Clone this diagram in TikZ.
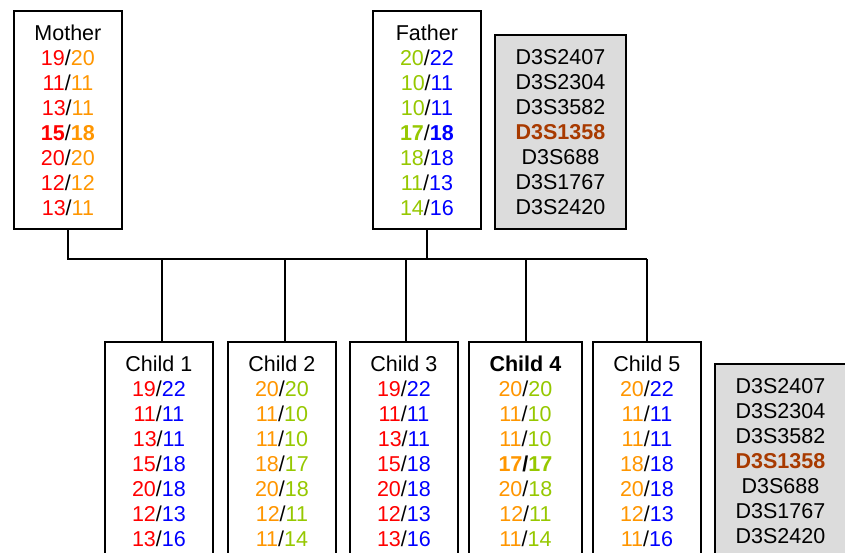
\documentclass[tikz,border=0pt]{standalone}
\usepackage{fontspec}
\setmainfont{Liberation Sans}
\usetikzlibrary{calc}

\definecolor{alred}{RGB}{255,0,0}
\definecolor{alorange}{RGB}{255,150,0}
\definecolor{algreen}{RGB}{150,200,0}
\definecolor{alblue}{RGB}{0,0,255}
\definecolor{markerhi}{RGB}{168,58,0}
\definecolor{markerbg}{RGB}{220,220,220}

% allele colour shortcuts
\newcommand\alR[1]{\textcolor{alred}{#1}}
\newcommand\alO[1]{\textcolor{alorange}{#1}}
\newcommand\alG[1]{\textcolor{algreen}{#1}}
\newcommand\alB[1]{\textcolor{alblue}{#1}}

\tikzset{
  person/.style={draw, line width=1.8pt, fill=white, anchor=north west,
    minimum width=108pt, minimum height=218pt, inner sep=0pt,
    align=center, font=\fontsize{21.5}{25}\selectfont},
  markers/.style={draw, line width=1.8pt, fill=markerbg, anchor=north west,
    minimum width=131pt, minimum height=194pt, inner sep=0pt,
    align=center, font=\fontsize{21.5}{25}\selectfont},
  link/.style={line width=1.8pt}
}

\begin{document}
\begin{tikzpicture}[x=1pt, y=-1pt]
\useasboundingbox (0,0) rectangle (845,553);

% parents
\node[person] (mother) at (13,10) {Mother\\
  \alR{19}/\alO{20}\\ \alR{11}/\alO{11}\\ \alR{13}/\alO{11}\\
  \textbf{\alR{15}}/\textbf{\alO{18}}\\ \alR{20}/\alO{20}\\ \alR{12}/\alO{12}\\ \alR{13}/\alO{11}};
\node[person] (father) at (372,10) {Father\\
  \alG{20}/\alB{22}\\ \alG{10}/\alB{11}\\ \alG{10}/\alB{11}\\
  \textbf{\alG{17}}/\textbf{\alB{18}}\\ \alG{18}/\alB{18}\\ \alG{11}/\alB{13}\\ \alG{14}/\alB{16}};

% marker list beside the parents
\node[markers] (mk1) at (494,34) {D3S2407\\ D3S2304\\ D3S3582\\
  \textbf{\textcolor{markerhi}{D3S1358}}\\ D3S688\\ D3S1767\\ D3S2420};

% children
\node[person] (c1) at (104,341) {Child 1\\
  \alR{19}/\alB{22}\\ \alR{11}/\alB{11}\\ \alR{13}/\alB{11}\\ \alR{15}/\alB{18}\\
  \alR{20}/\alB{18}\\ \alR{12}/\alB{13}\\ \alR{13}/\alB{16}};
\node[person] (c2) at (227,341) {Child 2\\
  \alO{20}/\alG{20}\\ \alO{11}/\alG{10}\\ \alO{11}/\alG{10}\\ \alO{18}/\alG{17}\\
  \alO{20}/\alG{18}\\ \alO{12}/\alG{11}\\ \alO{11}/\alG{14}};
\node[person] (c3) at (349,341) {Child 3\\
  \alR{19}/\alB{22}\\ \alR{11}/\alB{11}\\ \alR{13}/\alB{11}\\ \alR{15}/\alB{18}\\
  \alR{20}/\alB{18}\\ \alR{12}/\alB{13}\\ \alR{13}/\alB{16}};
\node[person, minimum width=113pt] (c4) at (468,341) {\textbf{Child 4}\\
  \alO{20}/\alG{20}\\ \alO{11}/\alG{10}\\ \alO{11}/\alG{10}\\ \textbf{\alO{17}/\alG{17}}\\
  \alO{20}/\alG{18}\\ \alO{12}/\alG{11}\\ \alO{11}/\alG{14}};
\node[person] (c5) at (592,341) {Child 5\\
  \alO{20}/\alB{22}\\ \alO{11}/\alB{11}\\ \alO{11}/\alB{11}\\ \alO{18}/\alB{18}\\
  \alO{20}/\alB{18}\\ \alO{12}/\alB{13}\\ \alO{11}/\alB{16}};

% marker list beside the children
\node[markers] (mk2) at (714,363) {D3S2407\\ D3S2304\\ D3S3582\\
  \textbf{\textcolor{markerhi}{D3S1358}}\\ D3S688\\ D3S1767\\ D3S2420};

% family lines
\coordinate (bus) at (0,259);
\coordinate (d1) at (162,259);
\coordinate (d2) at (285,259);
\coordinate (d3) at (406,259);
\coordinate (d4) at (526,259);
\coordinate (d5) at (647,259);

\draw[link] (mother.south) -- (mother.south |- bus) -- (d5);
\draw[link] (father.south) -- (father.south |- bus);
\draw[link] (d1) -- (d1 |- c1.north);
\draw[link] (d2) -- (d2 |- c2.north);
\draw[link] (d3) -- (d3 |- c3.north);
\draw[link] (d4) -- (d4 |- c4.north);
\draw[link] (d5) -- (d5 |- c5.north);
\end{tikzpicture}
\end{document}
